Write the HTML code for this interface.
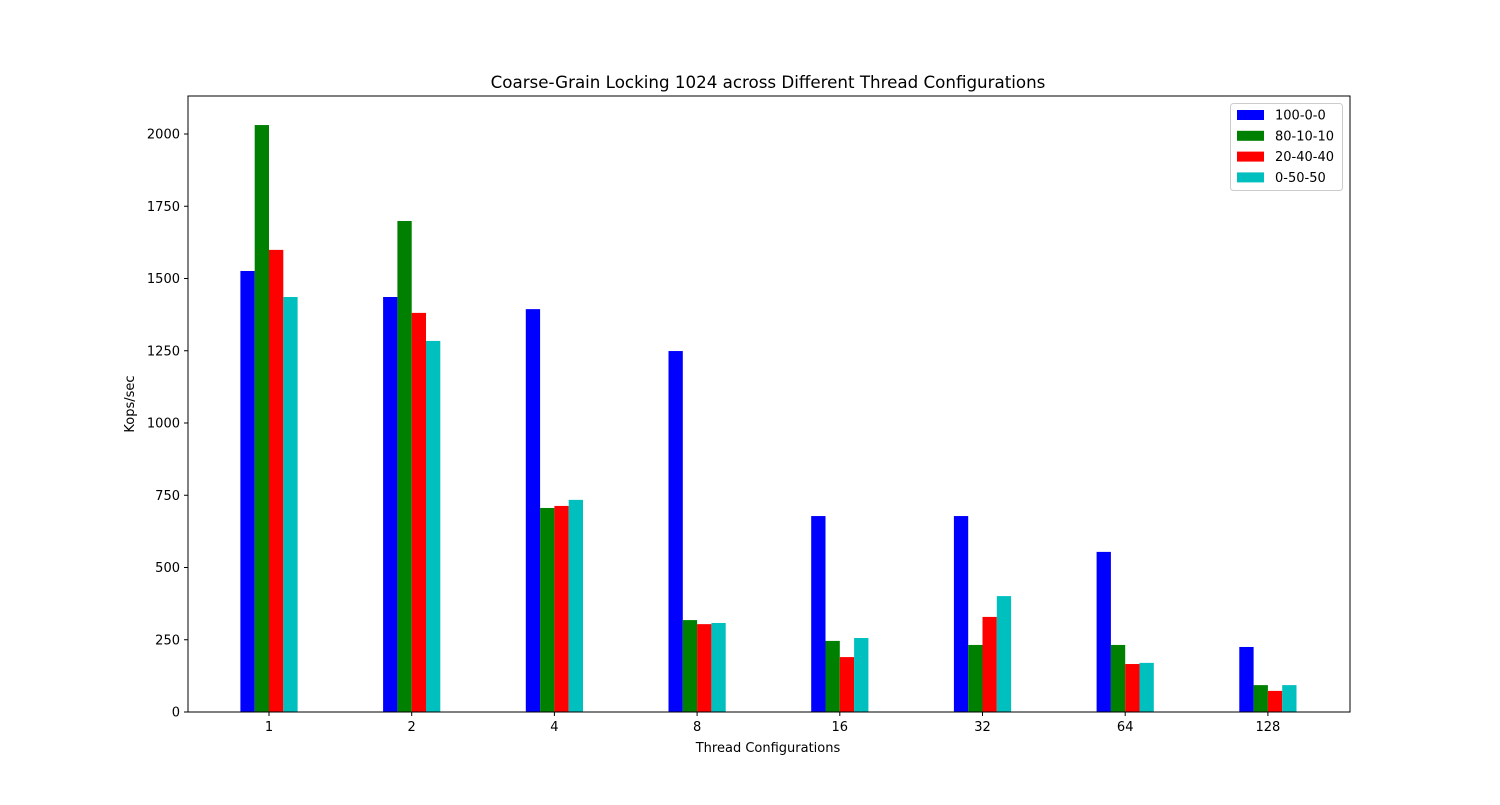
<!DOCTYPE html>
<html><head><meta charset="utf-8"><style>
body{margin:0;background:#fff;}
svg text{font-family:"DejaVu Sans","Liberation Sans",sans-serif;fill:#000;}
</style></head><body>
<svg id="chart" width="1500" height="800" xmlns="http://www.w3.org/2000/svg">
<rect width="1500" height="800" fill="#fff"/>
<text x="768" y="88" font-size="16.7" text-anchor="middle">Coarse-Grain Locking 1024 across Different Thread Configurations</text>
<g id="bars"></g>
<g id="axes"></g>
<text x="768" y="752" font-size="13" text-anchor="middle">Thread Configurations</text>
<text x="134" y="404" font-size="13" text-anchor="middle" transform="rotate(-90 134 404)">Kops/sec</text>
<g id="legend"></g>
</svg>
<script>
const categories = ["1","2","4","8","16","32","64","128"];
const seriesNames = ["100-0-0","80-10-10","20-40-40","0-50-50"];
const s100 = [1526,1436,1394,1249,678,678,554,225];
const s80 = [2031,1699,706,318,246,232,232,93];
const s20 = [1599,1381,713,304,190,329,166,73];
const s0 = [1436,1284,734,308,256,401,170,93];
const yTicks = [0,250,500,750,1000,1250,1500,1750,2000];
const colors = ["#0000ff","#008000","#ff0000","#00bfbf"];
const series = [s100,s80,s20,s0];
const NS="http://www.w3.org/2000/svg";
const L=188,R=1350,T=96,B=712;
const y0=B, pxPer=(712-134)/2000;
function yS(v){return y0 - v*pxPer;}
const step=142.7, x0=269, bw=14.3;
function xS(i){return x0+i*step;}
function mk(t,a,p){const e=document.createElementNS(NS,t);for(const k in a)e.setAttribute(k,a[k]);p.appendChild(e);return e;}
const bars=document.getElementById('bars');
series.forEach((s,si)=>{s.forEach((v,i)=>{
  const r=mk('rect',{x:xS(i)+(si-1.5)*bw-bw/2,y:yS(v),width:bw,height:yS(0)-yS(v),fill:colors[si]},bars);
  
  
});});
const ax=document.getElementById('axes');
const frame=mk('rect',{x:L,y:T,width:R-L,height:B-T,fill:'none',stroke:'#000','stroke-width':1},ax);


yTicks.forEach(v=>{
  mk('line',{x1:L-4,x2:L,y1:yS(v),y2:yS(v),stroke:'#000'},ax);
  const t=mk('text',{x:L-8,y:yS(v)+4.5,'font-size':13,'text-anchor':'end'},ax);
  t.textContent=v;
  
  
});
categories.forEach((c,i)=>{
  mk('line',{x1:xS(i),x2:xS(i),y1:B,y2:B+4,stroke:'#000'},ax);
  const t=mk('text',{x:xS(i),y:B+19,'font-size':13,'text-anchor':'middle'},ax);
  t.textContent=c;
  
  
});
const lg=document.getElementById('legend');


mk('rect',{x:1230.5,y:103.5,width:112,height:87,rx:3,fill:'#fff',stroke:'#ccc'},lg);
seriesNames.forEach((n,i)=>{
  const y=115+i*20.8;
  const g=mk('g',{},lg);
  
  
  mk('rect',{x:1237,y:y-5,width:27,height:10,fill:colors[i]},g);
  const t=mk('text',{x:1275,y:y+4.5,'font-size':13},g);
  t.textContent=n;
});
</script>
</body></html>
